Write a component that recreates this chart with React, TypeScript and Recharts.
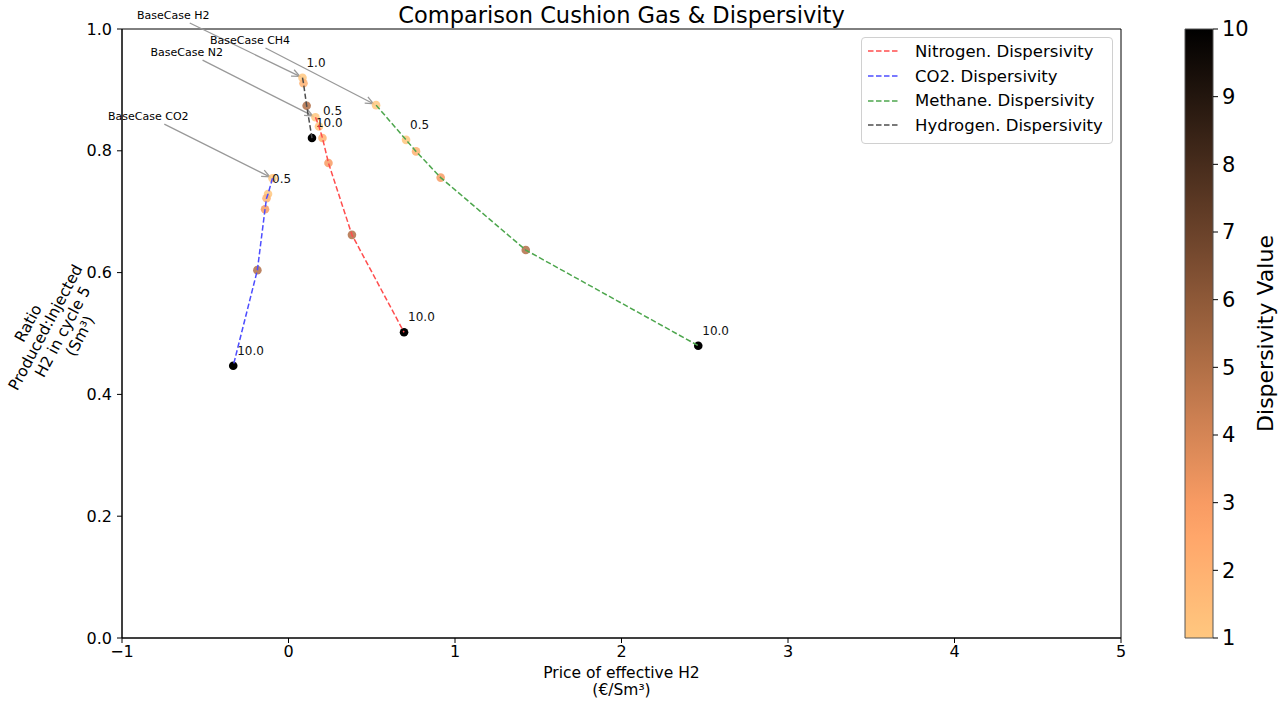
import React from 'react';
import {
  ScatterChart,
  Scatter,
  XAxis,
  YAxis,
  ReferenceLine,
  ReferenceArea,
  Legend
} from 'recharts';

const FONT = '"DejaVu Sans", Verdana, sans-serif';

// x = price of effective H2 (€/Sm³), y = produced:injected ratio, d = dispersivity
// first point of every run is the base case
const nitrogenX = [0.162, 0.183, 0.204, 0.240, 0.381, 0.694];
const nitrogenY = [0.855, 0.840, 0.821, 0.780, 0.662, 0.502];
const nitrogenD = [1, 0.5, 2, 3, 5, 10];
const nitrogenTags = ['', '0.5', '', '', '', '10.0'];

const co2X = [-0.096, -0.123, -0.132, -0.141, -0.187, -0.332];
const co2Y = [0.755, 0.729, 0.722, 0.704, 0.604, 0.447];
const co2D = [1, 0.5, 2, 3, 5, 10];
const co2Tags = ['', '0.5', '', '', '', '10.0'];

const methaneX = [0.526, 0.706, 0.766, 0.914, 1.425, 2.461];
const methaneY = [0.875, 0.818, 0.799, 0.756, 0.637, 0.480];
const methaneD = [1, 0.5, 2, 3, 5, 10];
const methaneTags = ['', '0.5', '', '', '', '10.0'];

const hydrogenX = [0.084, 0.090, 0.109, 0.141];
const hydrogenY = [0.920, 0.911, 0.874, 0.821];
const hydrogenD = [1, 2, 5, 10];
const hydrogenTags = ['1.0', '', '', '10.0'];

// base case annotations (text position in data coords)
const baseLabels = ['BaseCase H2', 'BaseCase CH4', 'BaseCase N2', 'BaseCase CO2'];
const baseTextX = [-0.692, -0.231, -0.611, -0.842];
const baseTextY = [1.023, 0.982, 0.962, 0.857];

const xTicks = [-1, 0, 1, 2, 3, 4, 5];
const yTicks = [0, 0.2, 0.4, 0.6, 0.8, 1.0];
const cbarTicks = [1, 2, 3, 4, 5, 6, 7, 8, 9, 10];

// matplotlib copper_r, vmin 1 / vmax 10
const copperR = (v: number) => {
  const t = Math.min(1, Math.max(0, (v - 1) / 9));
  const c = 1 - t;
  const h = (u: number) => Math.round(u * 255).toString(16).padStart(2, '0');
  return `#${h(Math.min(1, 1.25 * c))}${h(0.7812 * c)}${h(0.4975 * c)}`;
};

const rows = (xs: number[], ys: number[], ds: number[], tags: string[]) =>
  xs.map((x, i) => ({ x, y: ys[i], d: ds[i], tag: tags[i] }));

const series = [
  { name: 'Nitrogen. Dispersivity', color: '#ff4d4d', data: rows(nitrogenX, nitrogenY, nitrogenD, nitrogenTags) },
  { name: 'CO2. Dispersivity', color: '#4d4dff', data: rows(co2X, co2Y, co2D, co2Tags) },
  { name: 'Methane. Dispersivity', color: '#4da64d', data: rows(methaneX, methaneY, methaneD, methaneTags) },
  { name: 'Hydrogen. Dispersivity', color: '#4d4d4d', data: rows(hydrogenX, hydrogenY, hydrogenD, hydrogenTags) }
];

// which series each base case arrow points at
const baseTargets = [series[3], series[2], series[0], series[1]];

const DASH = '5.5 2.5';

const renderPoint = (p: any) => {
  const d = p.payload.d;
  return (
    <g>
      <circle cx={p.cx} cy={p.cy} r={4.3} fill={copperR(d)} fillOpacity={d >= 10 ? 1 : 0.85} />
      {p.payload.tag ? (
        <text x={p.cx + 4} y={p.cy - 11} fontSize={12} fontFamily={FONT} fill="#111">
          {p.payload.tag}
        </text>
      ) : null}
    </g>
  );
};

const renderNone = () => <g />;

const arrowShape = (label: string) => (p: any) => {
  const { x1, y1, x2, y2 } = p;
  const dx = x2 - x1;
  const dy = y2 - y1;
  const len = Math.hypot(dx, dy);
  const ux = dx / len;
  const uy = dy / len;
  const hw = label.length * 3.4 + 3;
  const hh = 8;
  const s = Math.min(hw / Math.max(Math.abs(ux), 1e-6), hh / Math.max(Math.abs(uy), 1e-6));
  const sx = x1 + ux * s;
  const sy = y1 + uy * s;
  const ex = x2 - ux * 3;
  const ey = y2 - uy * 3;
  const bx = ex - ux * 8;
  const by = ey - uy * 8;
  const w = 3.5;
  return (
    <g>
      <text x={x1} y={y1} dy="0.35em" textAnchor="middle" fontSize={11} fontFamily={FONT} fill="#000">
        {label}
      </text>
      <line x1={sx} y1={sy} x2={ex} y2={ey} stroke="#999" strokeWidth={1.3} />
      <polyline
        points={`${bx - uy * w},${by + ux * w} ${ex},${ey} ${bx + uy * w},${by - ux * w}`}
        fill="none"
        stroke="#999"
        strokeWidth={1.3}
      />
    </g>
  );
};

const fmtX = (v: number) => (v < 0 ? `\u2212${-v}` : `${v}`);

const XLabel = (p: any) => {
  const vb = p.viewBox;
  const cx = vb.x + vb.width / 2;
  return (
    <text textAnchor="middle" fontSize={15.5} fontFamily={FONT} fill="#000">
      <tspan x={cx} y={vb.y + 40}>Price of effective H2</tspan>
      <tspan x={cx} y={vb.y + 57}>(€/Sm³)</tspan>
    </text>
  );
};

const yLabelLines = ['Ratio', 'Produced:Injected', 'H2 in cycle 5', '(Sm³)'];

const YLabel = (p: any) => {
  const vb = p.viewBox;
  const bx = vb.x - 8;
  const by = vb.y + vb.height / 2 - 4;
  return (
    <g>
      {yLabelLines.map((t, i) => {
        const cx = bx + (i - 1.5) * 17.3;
        const cy = by + (i - 1.5) * 4.3;
        return (
          <text
            key={t}
            x={cx}
            y={cy}
            dy="0.35em"
            transform={`rotate(-62 ${cx} ${cy})`}
            textAnchor="middle"
            fontSize={15.5}
            fontFamily={FONT}
            fill="#000"
          >
            {t}
          </text>
        );
      })}
    </g>
  );
};

const LegendBox = () => (
  <div
    style={{
      border: '1px solid #d0d0d0',
      borderRadius: 4,
      background: 'rgba(255,255,255,0.8)',
      padding: '1px 0 5px 0',
      fontFamily: FONT,
      fontSize: 16.5,
      color: '#000'
    }}
  >
    {series.map((s) => (
      <div key={s.name} style={{ display: 'flex', alignItems: 'center', height: 24.7 }}>
        <svg width={32} height={6} style={{ marginLeft: 6, marginRight: 15 }}>
          <line x1={0} y1={3} x2={32} y2={3} stroke={s.color} strokeWidth={1.5} strokeDasharray={DASH} />
        </svg>
        <span style={{ whiteSpace: 'nowrap' }}>{s.name}</span>
      </div>
    ))}
  </div>
);

const CbarLabel = (p: any) => {
  const vb = p.viewBox;
  const cx = vb.x + 52;
  const cy = vb.y + vb.height / 2;
  return (
    <text
      x={cx}
      y={cy}
      transform={`rotate(-90 ${cx} ${cy})`}
      textAnchor="middle"
      dy="0.35em"
      fontSize={22}
      fontFamily={FONT}
      fill="#000"
    >
      Dispersivity Value
    </text>
  );
};

const cbarStops = Array.from({ length: 19 }, (_, i) => 1 + i * 0.5);
const cbarData = cbarTicks.map((v) => ({ x: 0.5, y: v }));

const axisTick = { fontSize: 16, fontFamily: FONT, fill: '#000' };

export default function App() {
  return (
    <div style={{ position: 'absolute', left: 0, top: 0, width: 1287, height: 704, background: '#fff' }}>
      <div
        style={{
          position: 'absolute',
          left: 122,
          width: 999,
          top: 1.5,
          textAlign: 'center',
          fontFamily: FONT,
          fontSize: 22.5,
          lineHeight: '26px',
          color: '#000'
        }}
      >
        Comparison Cushion Gas &amp; Dispersivity
      </div>

      <div style={{ position: 'absolute', left: 0, top: 0 }}>
        <ScatterChart width={1287} height={704} margin={{ top: 29, right: 166, bottom: 16, left: 62 }}>
          <XAxis
            type="number"
            dataKey="x"
            domain={[-1, 5]}
            ticks={xTicks}
            allowDataOverflow
            tickFormatter={fmtX}
            height={50}
            tick={axisTick}
            tickSize={5}
            tickMargin={3}
            stroke="#000"
            label={{ content: XLabel }}
          />
          <YAxis
            type="number"
            dataKey="y"
            domain={[0, 1]}
            ticks={yTicks}
            allowDataOverflow
            tickFormatter={(v: number) => v.toFixed(1)}
            width={60}
            tick={axisTick}
            tickSize={5}
            tickMargin={5}
            stroke="#000"
            label={{ content: YLabel }}
          />
          <ReferenceArea x1={-1} x2={5} y1={0} y2={1} fill="none" stroke="#000" strokeWidth={1} ifOverflow="visible" />
          {series.map((s) => (
            <Scatter key={s.name + '-pts'} data={s.data} shape={renderPoint} isAnimationActive={false} />
          ))}
          {series.map((s) => (
            <Scatter
              key={s.name + '-line'}
              data={s.data}
              shape={renderNone}
              line={{ stroke: s.color, strokeWidth: 1.5, strokeDasharray: DASH }}
              lineType="joint"
              isAnimationActive={false}
            />
          ))}
          {baseLabels.map((label, i) => (
            <ReferenceLine
              key={label}
              segment={[
                { x: baseTextX[i], y: baseTextY[i] },
                { x: baseTargets[i].data[0].x, y: baseTargets[i].data[0].y }
              ]}
              ifOverflow="visible"
              shape={arrowShape(label)}
            />
          ))}
          <Legend
            layout="vertical"
            align="center"
            verticalAlign="middle"
            wrapperStyle={{ left: 861, top: 37, width: 252 }}
            content={LegendBox}
          />
        </ScatterChart>
      </div>

      <div style={{ position: 'absolute', left: 1173, top: 0 }}>
        <ScatterChart width={110} height={704} margin={{ top: 29, right: 0, bottom: 66, left: 12 }}>
          <defs>
            <linearGradient id="copperR" x1="0" y1="1" x2="0" y2="0">
              {cbarStops.map((v) => (
                <stop key={v} offset={(v - 1) / 9} stopColor={copperR(v)} />
              ))}
            </linearGradient>
          </defs>
          <XAxis type="number" dataKey="x" domain={[0, 1]} hide />
          <YAxis
            type="number"
            dataKey="y"
            orientation="right"
            domain={[1, 10]}
            ticks={cbarTicks}
            allowDataOverflow
            width={70}
            axisLine={false}
            tick={{ fontSize: 21, fontFamily: FONT, fill: '#000' }}
            tickSize={5}
            tickMargin={4}
            tickLine={{ stroke: '#000' }}
            label={{ content: CbarLabel }}
          />
          <ReferenceArea x1={0} x2={1} y1={1} y2={10} fill="url(#copperR)" fillOpacity={1} stroke="#555" strokeWidth={1} />
          <Scatter data={cbarData} shape={renderNone} isAnimationActive={false} />
        </ScatterChart>
      </div>
    </div>
  );
}
